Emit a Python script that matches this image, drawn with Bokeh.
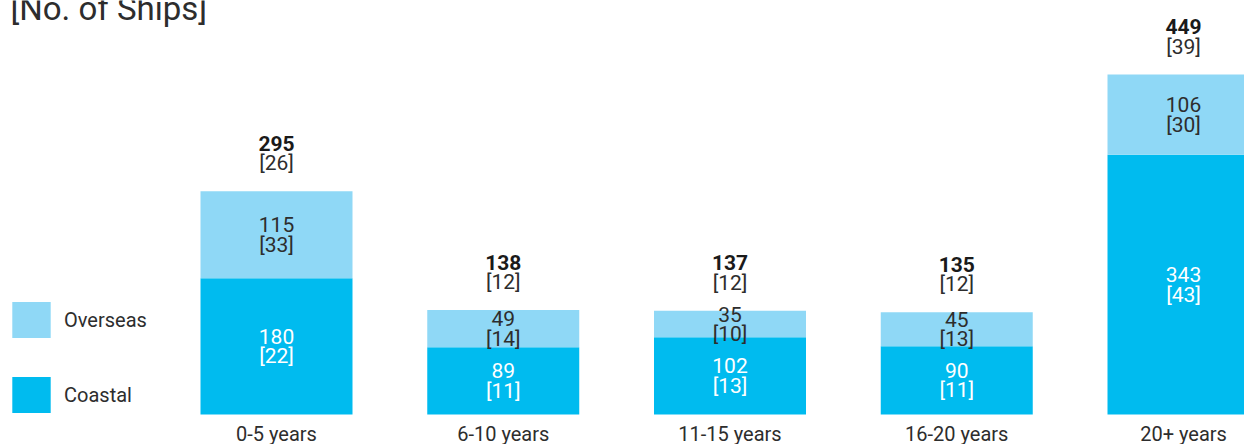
from bokeh.plotting import figure
from bokeh.models import ColumnDataSource, Range1d, Legend, LegendItem, Label
from bokeh.core.properties import value
from bokeh.embed import file_html
from bokeh.resources import INLINE

categories = ["0-5 years", "6-10 years", "11-15 years", "16-20 years", "20+ years"]
coastal = [180, 89, 102, 90, 343]
overseas = [115, 49, 35, 45, 106]
coastal_bracket = ["[22]", "[11]", "[13]", "[11]", "[43]"]
overseas_bracket = ["[33]", "[14]", "[10]", "[13]", "[30]"]
total_bracket = ["[26]", "[12]", "[12]", "[12]", "[39]"]

FONT = "Roboto"
TXT = "#2d2d2d"
C_COAST = "#00bbef"
C_OVER = "#8fd8f6"

xs = list(range(len(categories)))
totals = [c + o for c, o in zip(coastal, overseas)]
src = ColumnDataSource(dict(
    x=xs, cat=categories, coastal=coastal, overseas=overseas, total=totals,
    coastal_lbl=[str(v) for v in coastal], overseas_lbl=[str(v) for v in overseas],
    total_lbl=[str(v) for v in totals],
    coastal_br=coastal_bracket, overseas_br=overseas_bracket, total_br=total_bracket,
    coastal_mid=[c / 2 for c in coastal],
    overseas_mid=[c + o / 2 for c, o in zip(coastal, overseas)],
    zero=[0] * len(categories),
))

step = 226.75
ppu = 0.757
p = figure(width=1244, height=444, output_backend="svg", toolbar_location=None,
           x_range=Range1d(-276 / step, (1244 - 276) / step),
           y_range=Range1d(-30 / ppu, 414 / ppu),
           x_axis_location=None, y_axis_location=None,
           min_border=0, outline_line_color=None)
p.grid.visible = False

r = p.vbar_stack(["coastal", "overseas"], x="x", width=152 / step,
                 color=[C_COAST, C_OVER], line_color=None, source=src)

common = dict(text_align="center", text_font=value(FONT), source=src)
p.text(x="x", y="coastal_mid", text="coastal_lbl", text_baseline="middle", y_offset=-10,
       text_color="white", text_font_size="21px", **common)
p.text(x="x", y="coastal_mid", text="coastal_br", text_baseline="middle", y_offset=10,
       text_color="white", text_font_size="21px", **common)
p.text(x="x", y="overseas_mid", text="overseas_lbl", text_baseline="middle", y_offset=-10,
       text_color=TXT, text_font_size="21px", **common)
p.text(x="x", y="overseas_mid", text="overseas_br", text_baseline="middle", y_offset=10,
       text_color=TXT, text_font_size="21px", **common)
p.text(x="x", y="total", text="total_lbl", text_baseline="middle", y_offset=-48,
       text_color="#1a1a1a", text_font_size="21px", text_font_style="bold", **common)
p.text(x="x", y="total", text="total_br", text_baseline="middle", y_offset=-28,
       text_color=TXT, text_font_size="21px", **common)
p.text(x="x", y="zero", text="cat", text_baseline="middle", y_offset=19,
       text_color=TXT, text_font_size="20px", **common)

legend = Legend(items=[LegendItem(label="Overseas", renderers=[r[1]]),
                       LegendItem(label="Coastal", renderers=[r[0]])],
                location=(7, 27), glyph_width=48, glyph_height=45, spacing=30,
                padding=0, margin=0, label_standoff=9, border_line_color=None,
                background_fill_alpha=0, label_text_font_size="20px",
                label_text_color=TXT, label_text_font=FONT)
p.add_layout(legend)

p.add_layout(Label(x=10, y=444 - 8, x_units="screen", y_units="screen",
                   text="[No. of Ships]", text_font=FONT, text_font_size="33px",
                   text_color=TXT, text_baseline="alphabetic"))

open("out.html", "w").write(file_html(p, INLINE))
